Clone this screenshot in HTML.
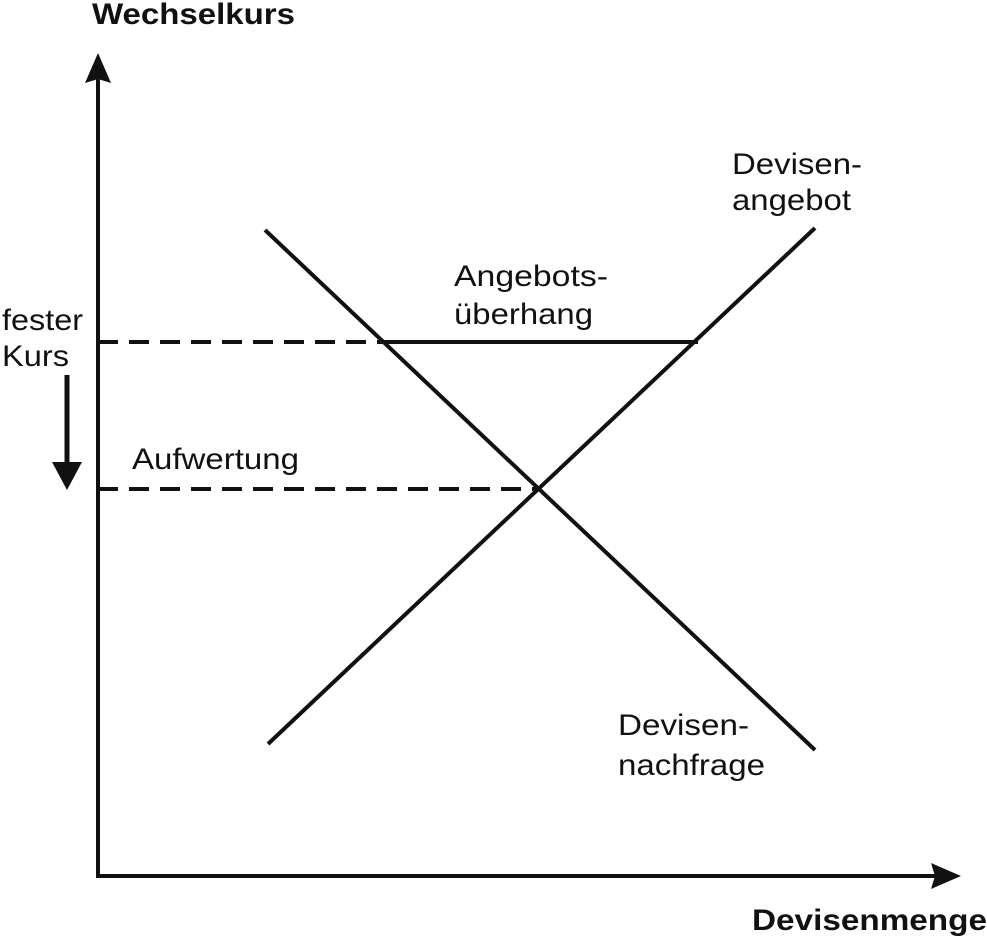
<!DOCTYPE html>
<html><head><style>
body{margin:0;background:#fff;}
svg{display:block}
text{font-family:"Liberation Sans",Arial,sans-serif;font-size:30px;fill:#111}
</style></head><body>
<svg width="987" height="937" viewBox="0 0 987 937">
<g stroke="#111" stroke-width="4" fill="none">
<line x1="98" y1="70" x2="98" y2="878"/>
<line x1="96" y1="876" x2="945" y2="876"/>
<line x1="268" y1="744" x2="815" y2="228"/>
<line x1="265" y1="230" x2="815" y2="750"/>
<line x1="385" y1="342" x2="698" y2="342"/>
<line x1="98" y1="342" x2="385" y2="342" stroke-dasharray="20,11"/>
<line x1="98" y1="489" x2="538" y2="489" stroke-dasharray="20,11"/>
<line x1="67" y1="375" x2="67" y2="465" stroke-width="5"/>
</g>
<g fill="#111">
<polygon points="98,53 111,83 98,79 85,83"/>
<polygon points="961,876 931,863 935,876 931,889"/>
<polygon points="52,462 82,462 67,490"/>
</g>
<text x="92" y="24" font-weight="bold" textLength="203" lengthAdjust="spacingAndGlyphs">Wechselkurs</text>
<text x="752" y="930" font-weight="bold" textLength="235" lengthAdjust="spacingAndGlyphs">Devisenmenge</text>
<text x="732" y="174" textLength="130" lengthAdjust="spacingAndGlyphs">Devisen-</text>
<text x="732" y="210" textLength="119" lengthAdjust="spacingAndGlyphs">angebot</text>
<text x="454" y="286" textLength="154" lengthAdjust="spacingAndGlyphs">Angebots-</text>
<text x="454" y="324" textLength="139" lengthAdjust="spacingAndGlyphs">überhang</text>
<text x="2" y="330" textLength="81" lengthAdjust="spacingAndGlyphs">fester</text>
<text x="2" y="366" textLength="67" lengthAdjust="spacingAndGlyphs">Kurs</text>
<text x="132" y="469" textLength="167" lengthAdjust="spacingAndGlyphs">Aufwertung</text>
<text x="618" y="735" textLength="131" lengthAdjust="spacingAndGlyphs">Devisen-</text>
<text x="618" y="775" textLength="147" lengthAdjust="spacingAndGlyphs">nachfrage</text>
</svg>
</body></html>
